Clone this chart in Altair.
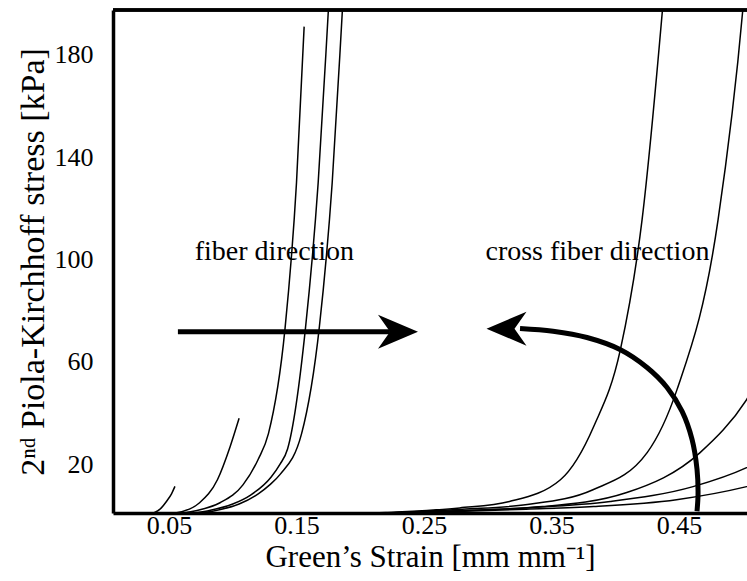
import altair as alt
import pandas as pd

# ---------------- data ----------------
x_ticks = [0.05, 0.15, 0.25, 0.35, 0.45]
y_ticks = [20, 60, 100, 140, 180]

# fiber direction curves
fa_x = [0.031, 0.038, 0.044, 0.048, 0.052, 0.0547]
fa_y = [0.3, 1.0, 3.0, 5.5, 8.5, 11.4]
fb_x = [0.042, 0.060, 0.074, 0.088, 0.098, 0.105]
fb_y = [0.3, 1.5, 5.0, 14.0, 27.0, 38.0]
fc_x = [0.045, 0.070, 0.090, 0.108, 0.120, 0.128, 0.141, 0.150, 0.156]
fc_y = [0.3, 1.8, 5.0, 12.0, 22.0, 32.0, 73.0, 130.0, 191.0]
fd_x = [0.050, 0.080, 0.100, 0.114, 0.130, 0.137, 0.143, 0.157, 0.167, 0.175, 0.177]
fd_y = [0.3, 1.8, 4.5, 8.0, 15.0, 20.0, 26.0, 73.0, 130.0, 197.5, 215.0]
fe_x = [0.055, 0.085, 0.105, 0.120, 0.129, 0.137, 0.154, 0.168, 0.178, 0.186, 0.188]
fe_y = [0.3, 1.8, 4.5, 8.5, 12.0, 16.0, 32.0, 74.0, 130.0, 197.5, 215.0]

# cross fiber direction curves
cf_x = [0.17, 0.22, 0.278, 0.317, 0.357, 0.383, 0.404, 0.421, 0.437, 0.440]
cf_y = [0.3, 1.2, 3.0, 5.5, 14.0, 34.7, 64.8, 115.5, 197.5, 215.0]
cg_x = [0.17, 0.23, 0.28, 0.331, 0.3825, 0.425, 0.4484, 0.4806, 0.500, 0.503]
cg_y = [0.3, 1.2, 2.5, 4.3, 10.1, 24.6, 49.2, 115.5, 197.5, 215.0]
ch_x = [0.18, 0.25, 0.343, 0.409, 0.4665, 0.503, 0.52]
ch_y = [0.3, 1.5, 3.5, 9.0, 24.6, 45.3, 60.0]
ci_x = [0.18, 0.26, 0.33, 0.396, 0.461, 0.503, 0.52]
ci_y = [0.3, 1.5, 3.0, 5.5, 11.3, 18.7, 23.0]
cj_x = [0.18, 0.27, 0.33, 0.383, 0.448, 0.503, 0.52]
cj_y = [0.3, 1.5, 2.5, 3.5, 6.2, 11.3, 13.5]

# annotation arrows (data units)
fiber_shaft_x = [0.057, 0.2233]
fiber_shaft_y = [71.8, 71.8]
fiber_head = (0.2296, 71.8)
arc_x = [0.3253, 0.3512, 0.3778, 0.4037, 0.4249, 0.4406, 0.4524, 0.4602,
         0.4641, 0.4649, 0.4641]
arc_y = [73.07, 72.0, 69.56, 64.88, 57.85, 50.05, 40.68, 29.76, 18.05, 8.29, 1.66]
cross_head = (0.3147, 73.0)

labels_text = ["fiber direction", "cross fiber direction"]
labels_x = [0.1327, 0.386]
labels_y = [100.0, 100.0]

# ---------------- build tables ----------------
curves = {
    "fa": (fa_x, fa_y), "fb": (fb_x, fb_y), "fc": (fc_x, fc_y),
    "fd": (fd_x, fd_y), "fe": (fe_x, fe_y),
    "cf": (cf_x, cf_y), "cg": (cg_x, cg_y), "ch": (ch_x, ch_y),
    "ci": (ci_x, ci_y), "cj": (cj_x, cj_y),
}
rows = []
for name, (xs_, ys_) in curves.items():
    for i, (a, b) in enumerate(zip(xs_, ys_)):
        rows.append({"curve": name, "i": i, "x": a, "y": b})
df = pd.DataFrame(rows)

arc_df = pd.DataFrame({"i": list(range(len(arc_x))), "x": arc_x, "y": arc_y})
shaft_df = pd.DataFrame({"i": [0, 1], "x": fiber_shaft_x, "y": fiber_shaft_y})
head_r = pd.DataFrame({"x": [fiber_head[0]], "y": [fiber_head[1]]})
head_l = pd.DataFrame({"x": [cross_head[0]], "y": [cross_head[1]]})
text_df = pd.DataFrame({"t": labels_text, "x": labels_x, "y": labels_y})

W, H = 634, 503
FONT = "Liberation Serif"

xs = alt.Scale(domain=[0.0061, 0.5033], nice=False, zero=False)
ys = alt.Scale(domain=[1.0, 197.5], nice=False, zero=False)

xaxis = alt.Axis(values=x_ticks, format=".2f", ticks=False, grid=False,
                 domainWidth=3.5, domainColor="black",
                 labelFont=FONT, labelFontSize=26, labelColor="black",
                 labelPadding=20, labelBaseline="alphabetic", labelFlush=False,
                 title="Green\u2019s Strain [mm mm\u207b\u00b9]",
                 titleFont=FONT, titleFontSize=31, titleFontWeight="normal",
                 titleColor="black", titleBaseline="alphabetic",
                 titleX=W / 2, titleY=53)
yaxis = alt.Axis(values=y_ticks, ticks=False, grid=False,
                 domainWidth=3.5, domainColor="black",
                 labelFont=FONT, labelFontSize=26, labelColor="black",
                 labelPadding=20,
                 title="2\u207f\u1d48 Piola-Kirchhoff stress [kPa]",
                 titleFont=FONT, titleFontSize=34, titleFontWeight="normal",
                 titleColor="black", titleBaseline="alphabetic",
                 titleX=-70, titleY=H / 2)

X = alt.X("x:Q", scale=xs, axis=xaxis)
Y = alt.Y("y:Q", scale=ys, axis=yaxis)

lines = alt.Chart(df).mark_line(color="black", strokeWidth=1.5,
                                interpolate="monotone", clip=True).encode(
    x=X, y=Y, detail="curve:N", order="i:Q")

arc = alt.Chart(arc_df).mark_line(color="black", strokeWidth=5,
                                  interpolate="catmull-rom", clip=True).encode(
    x="x:Q", y="y:Q", order="i:Q")

shaft = alt.Chart(shaft_df).mark_line(color="black", strokeWidth=5).encode(
    x="x:Q", y="y:Q", order="i:Q")

hr = alt.Chart(head_r).mark_point(shape="M1,0 L-1,-0.85 L-0.4,0 L-1,0.85 Z",
                                  filled=True, size=1600, color="black",
                                  opacity=1, strokeWidth=0).encode(x="x:Q", y="y:Q")
hl = alt.Chart(head_l).mark_point(shape="M-1,0 L1,-0.85 L0.4,0 L1,0.85 Z",
                                  filled=True, size=1600, color="black",
                                  opacity=1, strokeWidth=0).encode(x="x:Q", y="y:Q")

texts = alt.Chart(text_df).mark_text(font=FONT, fontSize=28, color="black",
                                     align="center", baseline="alphabetic").encode(
    x="x:Q", y="y:Q", text="t:N")

top = alt.Chart(text_df).mark_rule(color="black", strokeWidth=3.5).encode(
    x=alt.value(0), x2=alt.value(W), y=alt.value(0))

chart = alt.layer(lines, arc, shaft, hr, hl, texts, top).properties(
    width=W, height=H,
    autosize=alt.AutoSizeParams(type="none"),
    padding={"left": 113, "top": 10, "right": 0, "bottom": 68},
    background="white",
).configure_view(stroke=None)

chart.save("out.html", embed_options={"renderer": "svg", "actions": False})
